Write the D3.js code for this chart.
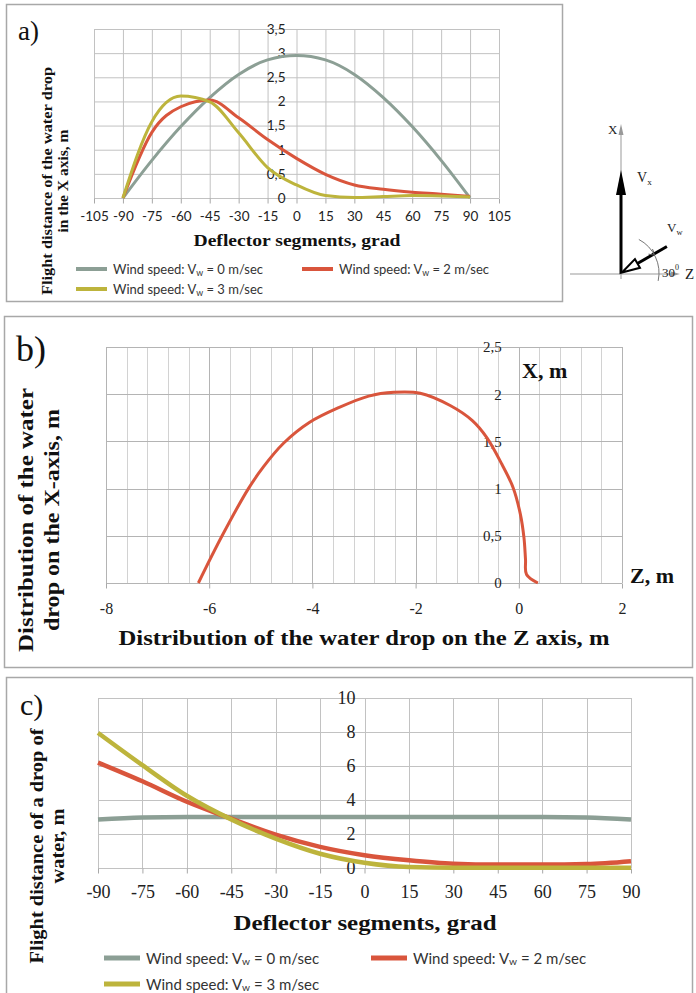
<!DOCTYPE html>
<html>
<head>
<meta charset="utf-8">
<title>Water drop flight distance</title>
<script src="https://cdn.jsdelivr.net/npm/d3@7"></script>
<style>
  body { margin: 0; background: #fff; }
  svg { display: block; }
</style>
</head>
<body>
<div id="chart"></div>
<script>
// ---- values ----
const segments = [-90, -75, -60, -45, -30, -15, 0, 15, 30, 45, 60, 75, 90];

// a) flight distance of the drop along X, m
const aWind0 = [0, 0.78, 1.48, 2.08, 2.56, 2.86, 2.95, 2.86, 2.56, 2.08, 1.48, 0.78, 0];
const aWind2 = [0, 1.36, 1.89, 2.03, 1.66, 1.21, 0.82, 0.49, 0.27, 0.18, 0.12, 0.08, 0.03];
const aWind3 = [0, 1.58, 2.11, 1.99, 1.35, 0.63, 0.27, 0.05, 0.01, 0.03, 0.05, 0.04, 0.02];
const aXTicks = [-105, -90, -75, -60, -45, -30, -15, 0, 15, 30, 45, 60, 75, 90, 105];
const aYTicks = [0, 0.5, 1, 1.5, 2, 2.5, 3, 3.5];

// b) trajectory of the drop (Z, X), m
const bZ = [-6.21, -5.75, -5.24, -4.95, -4.56, -4.06, -3.48, -2.91, -2.42, -1.91, -1.33, -0.9, -0.62, -0.33, -0.11, 0.03, 0.1, 0.13, 0.15, 0.37];
const bX = [0, 0.5, 1.0, 1.23, 1.48, 1.7, 1.86, 1.98, 2.02, 2.01, 1.88, 1.72, 1.54, 1.26, 1.01, 0.73, 0.48, 0.25, 0.09, 0];
const bXTicks = [-8, -6, -4, -2, 0, 2];
const bYTicks = [0, 0.5, 1, 1.5, 2, 2.5];

// c) flight distance of a drop, m
const cWind0 = [2.85, 2.97, 3, 3, 3, 3, 3, 3, 3, 3, 3, 2.97, 2.85];
const cWind2 = [6.2, 5.1, 3.9, 2.9, 1.96, 1.24, 0.75, 0.45, 0.25, 0.2, 0.2, 0.23, 0.4];
const cWind3 = [7.95, 6.05, 4.25, 2.86, 1.73, 0.84, 0.31, 0.06, 0.02, 0.02, 0.02, 0.02, 0.02];
const cXTicks = [-90, -75, -60, -45, -30, -15, 0, 15, 30, 45, 60, 75, 90];
const cYTicks = [0, 2, 4, 6, 8, 10];

const windSpeeds = ["0", "2", "3"];
const colors = ["#8c9f95", "#d9553c", "#bdb43c"];

// ---- setup ----
const W = 696, H = 993;
const serif = "'Liberation Serif', 'DejaVu Serif', serif";
const sans = "Lato, 'Open Sans', sans-serif";
const gridCol = "#c2c2c2", boxCol = "#a8a8a8";
const fmt = d => String(d).replace(".", ",");

const svg = d3.select("#chart").append("svg")
  .attr("width", W).attr("height", H)
  .style("background", "#fff");

// panel frames
[[6, 4, 556, 297], [4, 316, 688, 351], [6, 677, 686, 340]].forEach(f => {
  svg.append("rect")
    .attr("x", f[0] + 0.5).attr("y", f[1] + 0.5)
    .attr("width", f[2]).attr("height", f[3])
    .attr("fill", "none").attr("stroke", boxCol).attr("stroke-width", 1.5);
});

function panelLetter(t, x, y, size) {
  svg.append("text").attr("x", x).attr("y", y)
    .attr("font-family", serif).attr("font-size", size).attr("fill", "#111")
    .text(t);
}

// bold serif title, stretched to the width the original font takes
function title(x, y, t, size, len) {
  return svg.append("text").attr("x", x).attr("y", y).attr("text-anchor", "middle")
    .attr("font-family", serif).attr("font-weight", "bold")
    .attr("font-size", size).attr("fill", "#111")
    .attr("textLength", len).attr("lengthAdjust", "spacingAndGlyphs")
    .text(t);
}

function rotTitle(lines, xs, cy, size, lens) {
  lines.forEach((l, i) => {
    svg.append("text")
      .attr("transform", `translate(${xs[i]},${cy}) rotate(-90)`)
      .attr("text-anchor", "middle").attr("dominant-baseline", "central")
      .attr("font-family", serif).attr("font-weight", "bold")
      .attr("font-size", size).attr("fill", "#111")
      .attr("textLength", lens[i]).attr("lengthAdjust", "spacingAndGlyphs")
      .text(l);
  });
}

function windLabel(sel, speed, fs) {
  sel.append("tspan").text("Wind speed: V");
  sel.append("tspan").text("w").attr("font-size", fs * 0.68).attr("dy", fs * 0.22);
  sel.append("tspan").text(` = ${speed} m/sec`).attr("dy", -fs * 0.22);
}

function legend(items, fs, sw, swLen) {
  items.forEach(it => {
    svg.append("line")
      .attr("x1", it.x).attr("x2", it.x + swLen)
      .attr("y1", it.y).attr("y2", it.y)
      .attr("stroke", it.color).attr("stroke-width", sw);
    const t = svg.append("text")
      .attr("x", it.x + swLen + 6).attr("y", it.y)
      .attr("dominant-baseline", "central")
      .attr("font-family", sans).attr("font-size", fs).attr("fill", "#333");
    windLabel(t, it.speed, fs);
  });
}

function styleAxis(g, font, size) {
  g.select(".domain").remove();
  g.selectAll(".tick line").attr("stroke", boxCol);
  g.selectAll(".tick text").attr("font-family", font).attr("font-size", size).attr("fill", "#222");
}

// ================= a) =================
{
  const x = d3.scaleLinear().domain([-105, 105]).range([94, 499]);
  const y = d3.scaleLinear().domain([0, 3.5]).range([198, 29]);
  const g = svg.append("g");

  g.selectAll(".vg").data(aXTicks).join("line")
    .attr("x1", d => x(d) + 0.5).attr("x2", d => x(d) + 0.5)
    .attr("y1", y(0)).attr("y2", y(3.5))
    .attr("stroke", gridCol);
  g.selectAll(".hg").data(aYTicks).join("line")
    .attr("x1", x(-105)).attr("x2", x(105))
    .attr("y1", d => y(d) + 0.5).attr("y2", d => y(d) + 0.5)
    .attr("stroke", gridCol);

  const xa = g.append("g").attr("transform", `translate(0,${y(0) + 0.5})`)
    .call(d3.axisBottom(x).tickValues(aXTicks).tickSize(5).tickPadding(8).tickFormat(d => d));
  styleAxis(xa, sans, 13.5);
  const ya = g.append("g").attr("transform", `translate(${x(0) - 11},0)`)
    .call(d3.axisLeft(y).tickValues(aYTicks).tickSize(0).tickPadding(0).tickFormat(fmt));
  styleAxis(ya, sans, 13.5);

  [aWind0, aWind2, aWind3].forEach((s, k) => {
    g.append("path").datum(s)
      .attr("fill", "none").attr("stroke", colors[k]).attr("stroke-width", 3)
      .attr("d", d3.line().x((d, i) => x(segments[i])).y(d => y(d)).curve(d3.curveMonotoneX));
  });

  title(297, 246, "Deflector segments, grad", 17, 207);
  rotTitle(["Flight distance of the water drop", "in the X axis, m"], [47, 63], 181, 15, [228, 103]);
  panelLetter("a)", 18, 40, 27);

  legend([
    { x: 76, y: 269, color: colors[0], speed: windSpeeds[0] },
    { x: 302, y: 269, color: colors[1], speed: windSpeeds[1] },
    { x: 76, y: 289, color: colors[2], speed: windSpeeds[2] }
  ], 13, 4, 31);
}

// ---- vector sketch next to a) ----
{
  const g = svg.append("g");
  const ox = 621, oy = 273;
  g.append("line").attr("x1", ox).attr("y1", oy + 6).attr("x2", ox).attr("y2", 132)
    .attr("stroke", "#999").attr("stroke-width", 1);
  g.append("path").attr("d", `M${ox},124 L${ox - 2.5},135 L${ox + 2.5},135Z`).attr("fill", "#999");
  g.append("line").attr("x1", 570).attr("y1", oy + 1).attr("x2", 673).attr("y2", oy + 1)
    .attr("stroke", "#999").attr("stroke-width", 1);
  g.append("path").attr("d", `M680,${oy + 1} L671,${oy - 1.5} L671,${oy + 3.5}Z`).attr("fill", "#999");

  // Vx
  g.append("line").attr("x1", ox).attr("y1", oy).attr("x2", ox).attr("y2", 190)
    .attr("stroke", "#000").attr("stroke-width", 3);
  g.append("path").attr("d", `M${ox},170 L${ox - 5},195 L${ox + 5},195Z`).attr("fill", "#000");

  // Vw, 30 degrees to the Z axis
  const a = Math.PI / 6, len = 53;
  const sx = ox + len * Math.cos(a), sy = oy - len * Math.sin(a);
  const hx = ox + 19 * Math.cos(a), hy = oy - 19 * Math.sin(a);
  g.append("line").attr("x1", sx).attr("y1", sy).attr("x2", hx).attr("y2", hy)
    .attr("stroke", "#000").attr("stroke-width", 3);
  const px = 5 * Math.sin(a), py = 5 * Math.cos(a);
  g.append("path")
    .attr("d", `M${ox + 1},${oy - 0.5} L${hx + px},${hy + py} L${hx - px},${hy - py}Z`)
    .attr("fill", "#fff").attr("stroke", "#000").attr("stroke-width", 2);

  // angle arc
  const r = 38, a0 = 62 * Math.PI / 180, a1 = -12 * Math.PI / 180;
  g.append("path")
    .attr("d", `M${ox + r * Math.cos(a0)},${oy - r * Math.sin(a0)} A${r},${r} 0 0 1 ${ox + r * Math.cos(a1)},${oy - r * Math.sin(a1)}`)
    .attr("fill", "none").attr("stroke", "#777").attr("stroke-width", 1);
  const am = 28 * Math.PI / 180;
  const mx = ox + r * Math.cos(am), my = oy - r * Math.sin(am);
  g.append("path").attr("d", `M${mx},${my} l-2,-6 M${mx},${my} l-6,-1`)
    .attr("stroke", "#555").attr("stroke-width", 1).attr("fill", "none");

  const lab = (x, y, t, sub, fs) => {
    const tx = g.append("text").attr("x", x).attr("y", y)
      .attr("font-family", serif).attr("font-size", fs).attr("fill", "#222");
    tx.append("tspan").text(t);
    if (sub) tx.append("tspan").text(sub).attr("font-size", fs * 0.65).attr("dy", 3);
    return tx;
  };
  lab(608, 134, "X", null, 13);
  lab(637, 182, "V", "x", 14);
  lab(667, 232, "V", "w", 13);
  lab(685, 279, "Z", null, 15);
  const d30 = lab(662, 277, "30", null, 13);
  d30.append("tspan").text("0").attr("font-size", 8).attr("dy", -7);
}

// ================= b) =================
{
  const x = d3.scaleLinear().domain([-8, 2]).range([106, 622]);
  const y = d3.scaleLinear().domain([0, 2.5]).range([583, 347]);
  const g = svg.append("g");

  const vLines = d3.range(0, 26).map(i => -8 + i * 0.4);
  g.selectAll(".vg").data(vLines).join("line")
    .attr("x1", d => Math.round(x(d)) + 0.5).attr("x2", d => Math.round(x(d)) + 0.5)
    .attr("y1", y(0)).attr("y2", y(2.5))
    .attr("stroke", (d, i) => i % 5 === 0 ? "#b4b4b4" : "#d2d2d2");
  g.selectAll(".hg").data(bYTicks).join("line")
    .attr("x1", x(-8)).attr("x2", x(2))
    .attr("y1", d => Math.round(y(d)) + 0.5).attr("y2", d => Math.round(y(d)) + 0.5)
    .attr("stroke", "#b4b4b4");

  const xa = g.append("g").attr("transform", `translate(0,${Math.round(y(0)) + 0.5})`)
    .call(d3.axisBottom(x).tickValues(bXTicks).tickSize(5).tickPadding(14).tickFormat(d => d));
  styleAxis(xa, serif, 16);
  const ya = g.append("g").attr("transform", `translate(${x(0) - 17},0)`)
    .call(d3.axisLeft(y).tickValues(bYTicks).tickSize(0).tickPadding(0).tickFormat(fmt));
  styleAxis(ya, serif, 15);

  g.append("path").datum(bZ.map((z, i) => [z, bX[i]]))
    .attr("fill", "none").attr("stroke", colors[1]).attr("stroke-width", 3)
    .attr("d", d3.line().x(d => x(d[0])).y(d => y(d[1])).curve(d3.curveCatmullRom.alpha(0.5)));

  svg.append("text").attr("x", 522).attr("y", 378)
    .attr("font-family", serif).attr("font-weight", "bold").attr("font-size", 22).attr("fill", "#111")
    .text("X, m");
  svg.append("text").attr("x", 630).attr("y", 583)
    .attr("font-family", serif).attr("font-weight", "bold").attr("font-size", 22).attr("fill", "#111")
    .text("Z, m");
  title(364, 645, "Distribution of the water drop on the Z axis, m", 21, 491);
  rotTitle(["Distribution of the water", "drop on the X-axis, m"], [26, 52], 520, 21, [264, 222]);
  panelLetter("b)", 16, 361, 36);
}

// ================= c) =================
{
  const x = d3.scaleLinear().domain([-90, 90]).range([98, 631]);
  const y = d3.scaleLinear().domain([0, 10]).range([868, 698]);
  const g = svg.append("g");

  g.selectAll(".vg").data(cXTicks).join("line")
    .attr("x1", d => Math.round(x(d)) + 0.5).attr("x2", d => Math.round(x(d)) + 0.5)
    .attr("y1", y(0)).attr("y2", y(10))
    .attr("stroke", gridCol);
  g.selectAll(".hg").data(cYTicks).join("line")
    .attr("x1", x(-90)).attr("x2", x(90))
    .attr("y1", d => Math.round(y(d)) + 0.5).attr("y2", d => Math.round(y(d)) + 0.5)
    .attr("stroke", gridCol);

  const xa = g.append("g").attr("transform", `translate(0,${Math.round(y(0)) + 0.5})`)
    .call(d3.axisBottom(x).tickValues(cXTicks).tickSize(5).tickPadding(12).tickFormat(d => d));
  styleAxis(xa, serif, 18);
  const ya = g.append("g").attr("transform", `translate(${x(0) - 9},0)`)
    .call(d3.axisLeft(y).tickValues(cYTicks).tickSize(0).tickPadding(0).tickFormat(d => d));
  styleAxis(ya, serif, 18);

  [cWind0, cWind2, cWind3].forEach((s, k) => {
    g.append("path").datum(s)
      .attr("fill", "none").attr("stroke", colors[k]).attr("stroke-width", 4.5)
      .attr("d", d3.line().x((d, i) => x(segments[i])).y(d => y(d)).curve(d3.curveMonotoneX));
  });

  title(365, 930, "Deflector segments, grad", 22, 263);
  rotTitle(["Flight distance of a drop of", "water, m"], [37, 58], 846, 18, [235, 75]);
  panelLetter("c)", 20, 715, 30);

  legend([
    { x: 104, y: 958, color: colors[0], speed: windSpeeds[0] },
    { x: 371, y: 958, color: colors[1], speed: windSpeeds[1] },
    { x: 104, y: 984, color: colors[2], speed: windSpeeds[2] }
  ], 15, 5, 36);
}
</script>
</body>
</html>
